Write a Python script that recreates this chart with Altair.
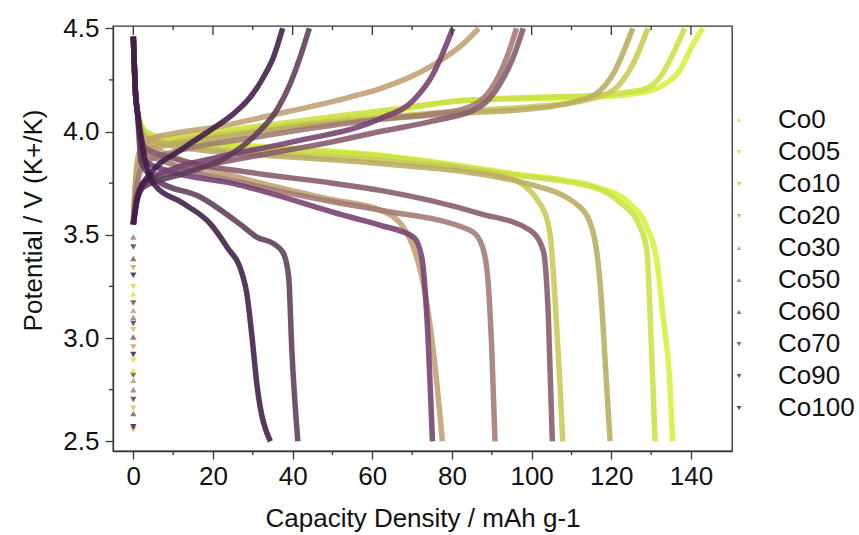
import altair as alt
import pandas as pd

# ---------------- data ----------------
series = ["Co0", "Co05", "Co10", "Co20", "Co30", "Co50", "Co60", "Co70", "Co90", "Co100"]
colors = ["#d0f23a", "#cbe046", "#c8ca54", "#baac62", "#bf9f72",
          "#a07a72", "#84596a", "#74406e", "#5d3b58", "#3f1b48"]
shapes = ["triangle-up", "triangle-down", "triangle-down", "triangle-down", "triangle-up",
          "triangle-up", "triangle-up", "triangle-down", "triangle-down", "triangle-down"]

# charge curves (capacity, potential)
co0_chg_q = [0, 0.5, 1.5, 4, 10, 25, 45, 62, 83, 100, 116, 128, 133, 137.2, 140.6, 143]
co0_chg_v = [3.55, 3.72, 3.85, 3.93, 3.96, 4.0, 4.05, 4.09, 4.15, 4.16, 4.167, 4.19, 4.224, 4.297, 4.426, 4.5]
co05_chg_q = [0, 0.5, 1.5, 4, 10, 25, 45, 62, 83, 100, 116, 124, 128.9, 132.5, 134.7, 138.4]
co05_chg_v = [3.55, 3.72, 3.86, 3.94, 3.97, 4.01, 4.06, 4.1, 4.15, 4.165, 4.175, 4.19, 4.21, 4.27, 4.345, 4.5]
co10_chg_q = [0, 0.5, 1.5, 4, 10, 25, 45, 62, 83, 100, 113, 120.5, 125.5, 129.2]
co10_chg_v = [3.55, 3.72, 3.84, 3.92, 3.95, 3.99, 4.04, 4.07, 4.1, 4.12, 4.15, 4.2, 4.329, 4.5]
co20_chg_q = [0, 0.5, 1.5, 4, 10, 25, 45, 62, 83, 100, 110, 116.3, 120.5, 125.4]
co20_chg_v = [3.55, 3.72, 3.84, 3.91, 3.94, 3.98, 4.03, 4.06, 4.09, 4.11, 4.14, 4.184, 4.28, 4.5]
co30_chg_q = [0, 0.5, 1.5, 4, 10, 21, 35, 54.4, 62, 74.5, 82.9, 86.7]
co30_chg_v = [3.55, 3.75, 3.9, 3.96, 3.99, 4.022, 4.08, 4.167, 4.208, 4.313, 4.426, 4.5]
co50_chg_q = [0, 1, 3, 10, 30, 50, 62, 75, 83, 89.6, 93.8, 96.2]
co50_chg_v = [3.55, 3.75, 3.85, 3.9, 3.97, 4.03, 4.06, 4.085, 4.11, 4.2, 4.361, 4.5]
co60_chg_q = [0, 1, 3, 10, 30, 50, 62, 75, 87, 92.1, 95.4, 97.9]
co60_chg_v = [3.55, 3.7, 3.76, 3.8, 3.88, 3.95, 4.0, 4.05, 4.119, 4.232, 4.361, 4.5]
co70_chg_q = [0, 1, 3, 10, 20, 40, 62, 70.3, 75.3, 78.7, 80.2]
co70_chg_v = [3.55, 3.68, 3.75, 3.82, 3.87, 3.95, 4.063, 4.151, 4.28, 4.426, 4.5]
co90_chg_q = [0, 1, 2.6, 12.6, 23.5, 31, 36, 39.4, 41.9, 44.2]
co90_chg_v = [3.55, 3.67, 3.732, 3.796, 3.877, 3.99, 4.103, 4.232, 4.361, 4.5]
co100_chg_q = [0, 1.3, 4.3, 11.8, 19.3, 25.2, 29.4, 32.7, 35.2, 37.5]
co100_chg_v = [3.55, 3.7, 3.796, 3.909, 4.006, 4.087, 4.167, 4.264, 4.361, 4.5]

# discharge curves (capacity, potential)
co0_dis_q = [0, 0.2, 0.5, 1.0, 3, 10, 30, 62, 95.4, 116.3, 124.7, 128.9, 131.4, 133, 134.7, 135.4]
co0_dis_v = [4.46, 4.35, 4.2, 4.1, 4.0, 3.96, 3.93, 3.885, 3.796, 3.731, 3.651, 3.538, 3.377, 3.102, 2.779, 2.5]
co05_dis_q = [0, 0.2, 0.5, 1.0, 3, 10, 30, 62, 95.4, 116.3, 122, 127.2, 128.9, 130.1, 131]
co05_dis_v = [4.46, 4.35, 4.2, 4.1, 4.0, 3.95, 3.92, 3.88, 3.79, 3.725, 3.66, 3.54, 3.425, 2.941, 2.5]
co10_dis_q = [0, 0.2, 0.5, 1.0, 3, 10, 30, 62, 93.7, 102.1, 104.6, 105.9, 107.1, 107.8]
co10_dis_v = [4.46, 4.35, 4.2, 4.1, 3.98, 3.94, 3.9, 3.86, 3.78, 3.651, 3.506, 3.183, 2.78, 2.5]
co20_dis_q = [0, 0.2, 0.5, 1.0, 3, 10, 30, 62, 98.8, 112.1, 115.5, 117.2, 118.8, 119.7]
co20_dis_v = [4.46, 4.35, 4.2, 4.1, 3.97, 3.93, 3.89, 3.845, 3.748, 3.635, 3.506, 3.264, 2.779, 2.5]
co30_dis_q = [0, 0.2, 0.5, 1.0, 3, 10, 30, 50, 62, 68, 70.3, 72.8, 75.3, 77.6]
co30_dis_v = [4.46, 4.35, 4.2, 4.1, 3.95, 3.88, 3.76, 3.67, 3.62, 3.53, 3.441, 3.264, 2.941, 2.5]
co50_dis_q = [0, 0.2, 0.5, 1.0, 3, 10, 30, 50, 62, 84.5, 87, 88.7, 90, 90.8]
co50_dis_v = [4.46, 4.35, 4.2, 4.1, 3.9, 3.84, 3.74, 3.66, 3.619, 3.522, 3.473, 3.344, 2.941, 2.5]
co60_dis_q = [0, 0.2, 0.5, 1.0, 3, 10, 30, 50, 62, 87, 99.6, 102.9, 104.2, 105.2]
co60_dis_v = [4.46, 4.35, 4.2, 4.1, 3.92, 3.87, 3.8, 3.75, 3.715, 3.603, 3.522, 3.425, 3.102, 2.5]
co70_dis_q = [0, 0.2, 0.5, 1.0, 2.6, 8.4, 25.2, 54.4, 62, 70.3, 72.4, 73.7, 75.1]
co70_dis_v = [4.46, 4.35, 4.2, 4.1, 3.86, 3.812, 3.748, 3.586, 3.546, 3.489, 3.392, 3.102, 2.5]
co90_dis_q = [0, 0.2, 0.5, 1.0, 2, 5.9, 16.8, 27.7, 31, 35.2, 37.7, 39, 39.8, 41.3]
co90_dis_v = [4.46, 4.35, 4.2, 4.1, 3.85, 3.764, 3.683, 3.538, 3.489, 3.457, 3.409, 3.296, 2.941, 2.5]
co100_dis_q = [0, 0.2, 0.5, 1.0, 2.6, 5.1, 12.6, 19.3, 23.5, 27.3, 28.5, 29.8, 31, 34.4]
co100_dis_v = [4.46, 4.35, 4.2, 4.1, 3.9, 3.748, 3.651, 3.554, 3.441, 3.312, 3.215, 3.005, 2.779, 2.5]

# sparse first points of the charge step (at zero capacity)
start_v = [2.557, 2.57, 2.634, 2.66, 2.702, 2.75, 2.795, 2.82, 2.843, 2.892,
           2.92, 2.957, 3.005, 3.04, 3.07, 3.1, 3.134, 3.17, 3.215, 3.25,
           3.304, 3.34, 3.385, 3.441, 3.489]
start_series = ["Co20", "Co100", "Co60", "Co10", "Co90", "Co50", "Co30", "Co70", "Co0", "Co05",
                "Co100", "Co20", "Co60", "Co10", "Co90", "Co50", "Co30", "Co70", "Co0", "Co05",
                "Co100", "Co20", "Co60", "Co90", "Co50"]

x_major = [0, 20, 40, 60, 80, 100, 120, 140]
x_minor = [10, 30, 50, 70, 90, 110, 130]
y_major = [2.5, 3.0, 3.5, 4.0, 4.5]
y_minor = [2.75, 3.25, 3.75, 4.25]

curves = {
    "Co0": (co0_chg_q, co0_chg_v, co0_dis_q, co0_dis_v),
    "Co05": (co05_chg_q, co05_chg_v, co05_dis_q, co05_dis_v),
    "Co10": (co10_chg_q, co10_chg_v, co10_dis_q, co10_dis_v),
    "Co20": (co20_chg_q, co20_chg_v, co20_dis_q, co20_dis_v),
    "Co30": (co30_chg_q, co30_chg_v, co30_dis_q, co30_dis_v),
    "Co50": (co50_chg_q, co50_chg_v, co50_dis_q, co50_dis_v),
    "Co60": (co60_chg_q, co60_chg_v, co60_dis_q, co60_dis_v),
    "Co70": (co70_chg_q, co70_chg_v, co70_dis_q, co70_dis_v),
    "Co90": (co90_chg_q, co90_chg_v, co90_dis_q, co90_dis_v),
    "Co100": (co100_chg_q, co100_chg_v, co100_dis_q, co100_dis_v),
}

rows = []
for s in series:
    cq, cv, dq, dv = curves[s]
    for i, (q, v) in enumerate(zip(cq, cv)):
        rows.append({"series": s, "curve": s + "-c", "i": i, "Q": q, "V": v})
    for i, (q, v) in enumerate(zip(dq, dv)):
        rows.append({"series": s, "curve": s + "-d", "i": i, "Q": q, "V": v})
lines_df = pd.DataFrame(rows)
dots_df = pd.DataFrame({"series": start_series, "Q": [0] * len(start_v), "V": start_v})

FONT = "Liberation Sans"
FS = 26
W, H = 619, 425
xscale = alt.Scale(domain=[-5.1, 150.3], nice=False, zero=False)
yscale = alt.Scale(domain=[2.453, 4.511], nice=False, zero=False)
cscale = alt.Scale(domain=series, range=colors)
sscale = alt.Scale(domain=series, range=shapes)

leg = alt.Legend(title=None, orient="none", legendX=613, legendY=81,
                 labelFont=FONT, labelFontSize=FS, labelColor="#111",
                 symbolSize=24, symbolOpacity=0.85, symbolStrokeWidth=0,
                 rowPadding=6, labelOffset=26)

xaxis = alt.Axis(values=x_major, title="Capacity Density / mAh g-1", format="d",
                 tickSize=8, labelPadding=4, titlePadding=16, grid=False)
yaxis = alt.Axis(values=y_major, title="Potential / V (K+/K)", format=".1f",
                 tickSize=8, labelPadding=6, titlePadding=16, titleFontSize=26,
                 titleY=194, grid=False)

lines = alt.Chart(lines_df).mark_line(strokeWidth=5.5, opacity=0.88, interpolate="monotone").encode(
    x=alt.X("Q:Q", scale=xscale, axis=xaxis),
    y=alt.Y("V:Q", scale=yscale, axis=yaxis),
    color=alt.Color("series:N", scale=cscale, legend=leg),
    detail="curve:N",
    order="i:Q",
)

dots = alt.Chart(dots_df).mark_point(filled=True, size=40, opacity=0.85).encode(
    x="Q:Q",
    y="V:Q",
    color=alt.Color("series:N", scale=cscale, legend=leg),
    shape=alt.Shape("series:N", scale=sscale, legend=leg),
)

tick_col = "#333333"
xmaj_df = pd.DataFrame({"Q": x_major})
xmin_df = pd.DataFrame({"Q": x_minor})
ymin_df = pd.DataFrame({"V": y_minor})

top_major = alt.Chart(xmaj_df).mark_rule(color=tick_col, strokeWidth=1.3).encode(
    x="Q:Q", y=alt.value(0), y2=alt.value(9))
top_minor = alt.Chart(xmin_df).mark_rule(color=tick_col, strokeWidth=1.3).encode(
    x="Q:Q", y=alt.value(0), y2=alt.value(4))
bot_minor = alt.Chart(xmin_df).mark_rule(color=tick_col, strokeWidth=1.3).encode(
    x="Q:Q", y=alt.value(H), y2=alt.value(H + 4))
left_minor = alt.Chart(ymin_df).mark_rule(color=tick_col, strokeWidth=1.3).encode(
    y="V:Q", x=alt.value(-4), x2=alt.value(0))

chart = alt.layer(lines, dots, top_major, top_minor, bot_minor, left_minor).properties(
    width=W, height=H,
    autosize=alt.AutoSizeParams(type="none"),
    padding={"left": 113, "top": 26, "right": 859 - 113 - W, "bottom": 535 - 26 - H},
    background="white",
).configure_view(
    stroke=tick_col, strokeWidth=1.3
).configure_axis(
    domainColor=tick_col, domainWidth=1.3, tickColor=tick_col, tickWidth=1.3,
    labelFont=FONT, labelFontSize=FS, labelColor="#111",
    titleFont=FONT, titleFontSize=FS, titleFontWeight="normal", titleColor="#111",
)

chart.save("out.html", embed_options={"renderer": "svg", "actions": False})
